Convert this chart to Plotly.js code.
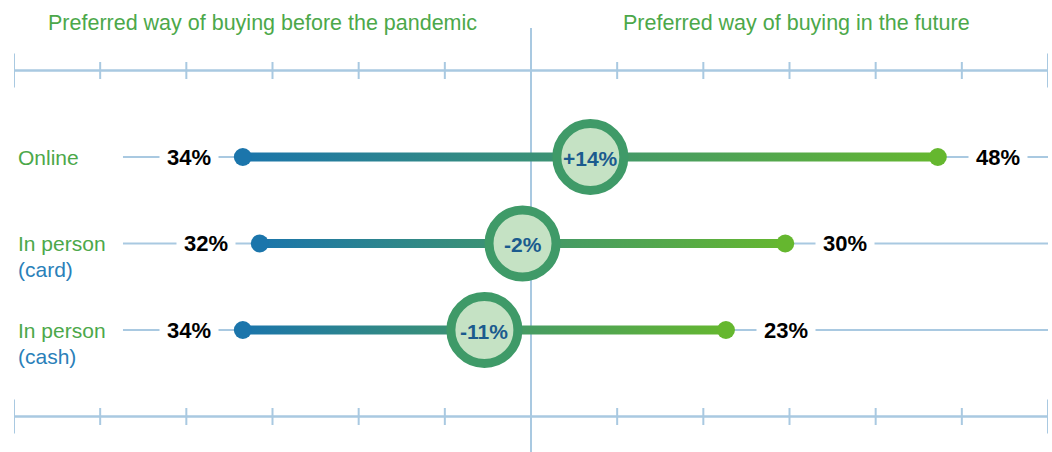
<!DOCTYPE html>
<html><head><meta charset="utf-8">
<script src="https://cdn.plot.ly/plotly-3.0.1.min.js"></script>
<style>html,body{margin:0;padding:0;background:#fff;overflow:hidden}</style>
</head><body><div id="chart" style="width:1052px;height:452px"></div>
<script>
// ---- data ----
const categories = ['Online', 'In person', 'In person'];
const subLabels = ['', '(card)', '(cash)'];
const beforeValues = [34, 32, 34];   // preferred before the pandemic (%)
const futureValues = [48, 30, 23];   // preferred in the future (%)
const leftTitle = 'Preferred way of buying before the pandemic';
const rightTitle = 'Preferred way of buying in the future';

// ---- style ----
const FONT = 'Liberation Sans, Arial, Helvetica, sans-serif';
const BLUE = '#1b75ab', GREEN = '#65b72f';
const GUIDE = '#a9c9e1';
const TITLE_GREEN = '#4ca84a', SUB_BLUE = '#2a80b9';
const RING = '#3f9a68', RING_FILL = '#c5e2c4', RING_TEXT = '#1b5b8e';
const X_MAX = 61, TICKS_PER_SIDE = 6, HALF_BAR = 0.052;

const rows = categories.map((_, i) => i);
const changes = rows.map(i => futureValues[i] - beforeValues[i]);
const mids = rows.map(i => (futureValues[i] - beforeValues[i]) / 2);
const fmtPct = v => v + '%';
const fmtChange = v => (v > 0 ? '+' : '') + v + '%';

const traces = [];
// gradient bars
rows.forEach(i => {
  const x0 = -beforeValues[i], x1 = futureValues[i];
  traces.push({
    type: 'scatter', mode: 'lines', hoverinfo: 'skip', showlegend: false,
    x: [x0, x1, x1, x0, x0],
    y: [i - HALF_BAR, i - HALF_BAR, i + HALF_BAR, i + HALF_BAR, i - HALF_BAR],
    fill: 'toself', line: {width: 0},
    fillgradient: {type: 'horizontal', start: x0, stop: x1,
      colorscale: [[0, BLUE], [1, GREEN]]}
  });
});
// end dots
traces.push({type: 'scatter', mode: 'markers', showlegend: false, hoverinfo: 'skip',
  x: beforeValues.map(v => -v), y: rows,
  marker: {size: 18, color: BLUE}});
traces.push({type: 'scatter', mode: 'markers', showlegend: false, hoverinfo: 'skip',
  x: futureValues, y: rows,
  marker: {size: 18, color: GREEN}});
// change circles at midpoint
traces.push({type: 'scatter', mode: 'markers', showlegend: false, hoverinfo: 'skip',
  x: mids, y: rows,
  marker: {size: 67, color: RING_FILL, line: {width: 9, color: RING}}});

// ---- shapes ----
const shapes = [];
const axisRows = [-1, categories.length];
rows.forEach(i => shapes.push({type: 'line', layer: 'below', xref: 'paper', yref: 'y',
  x0: 0.1054, x1: 1, y0: i, y1: i, line: {color: GUIDE, width: 2}}));
axisRows.forEach(yv => {
  shapes.push({type: 'line', layer: 'below', xref: 'x', yref: 'y',
    x0: -X_MAX, x1: X_MAX, y0: yv, y1: yv, line: {color: GUIDE, width: 2.5}});
  for (let k = -TICKS_PER_SIDE; k <= TICKS_PER_SIDE; k++) {
    if (k === 0) continue;
    const half = Math.abs(k) === TICKS_PER_SIDE ? 17 : 8.5;
    const xv = k * X_MAX / TICKS_PER_SIDE;
    shapes.push({type: 'line', layer: 'below', xref: 'x', yref: 'y',
      ysizemode: 'pixel', yanchor: yv, x0: xv, x1: xv, y0: -half, y1: half,
      line: {color: GUIDE, width: 2}});
  }
});
shapes.push({type: 'line', layer: 'below', xref: 'x', yref: 'paper',
  x0: 0, x1: 0, y0: 0, y1: 1 - 28 / 452, line: {color: GUIDE, width: 2}});

// ---- annotations ----
const annotations = [];
rows.forEach(i => {
  annotations.push({x: -beforeValues[i], y: i, xref: 'x', yref: 'y', showarrow: false,
    xanchor: 'right', yanchor: 'middle', xshift: -24, bgcolor: '#ffffff', borderpad: 7,
    text: '<b>' + fmtPct(beforeValues[i]) + '</b>',
    font: {family: FONT, size: 22, color: '#000'}});
  annotations.push({x: futureValues[i], y: i, xref: 'x', yref: 'y', showarrow: false,
    xanchor: 'left', yanchor: 'middle', xshift: 30, bgcolor: '#ffffff', borderpad: 7,
    text: '<b>' + fmtPct(futureValues[i]) + '</b>',
    font: {family: FONT, size: 22, color: '#000'}});
  annotations.push({x: mids[i], y: i, xref: 'x', yref: 'y', showarrow: false,
    xanchor: 'center', yanchor: 'middle', yshift: -1,
    text: '<b>' + fmtChange(changes[i]) + '</b>',
    font: {family: FONT, size: 21, color: RING_TEXT}});
  annotations.push({x: 0.0036, y: i, xref: 'paper', yref: 'y', showarrow: false,
    xanchor: 'left', yanchor: 'middle', xshift: -2, text: categories[i],
    font: {family: FONT, size: 21, color: TITLE_GREEN}});
  if (subLabels[i]) annotations.push({x: 0.0036, y: i, xref: 'paper', yref: 'y', showarrow: false,
    xanchor: 'left', yanchor: 'middle', xshift: -2, yshift: -26, text: subLabels[i],
    font: {family: FONT, size: 21, color: SUB_BLUE}});
});
annotations.push({x: 0.2403, y: 1 - 23 / 452, xref: 'paper', yref: 'paper', showarrow: false,
  xanchor: 'center', yanchor: 'middle', text: leftTitle,
  font: {family: FONT, size: 21.5, color: TITLE_GREEN}});
annotations.push({x: 0.7563, y: 1 - 23 / 452, xref: 'paper', yref: 'paper', showarrow: false,
  xanchor: 'center', yanchor: 'middle', text: rightTitle,
  font: {family: FONT, size: 21.5, color: TITLE_GREEN}});

const layout = {
  width: 1052, height: 452,
  margin: {l: 14, r: 4, t: 0, b: 0, pad: 0},
  paper_bgcolor: '#fff', plot_bgcolor: '#fff',
  showlegend: false,
  xaxis: {range: [-X_MAX, X_MAX], visible: false, fixedrange: true},
  yaxis: {range: [(452 - 157) / 86.5, -157 / 86.5], visible: false, fixedrange: true},
  shapes: shapes, annotations: annotations
};
Plotly.newPlot('chart', traces, layout, {displayModeBar: false, staticPlot: true});
</script></body></html>
